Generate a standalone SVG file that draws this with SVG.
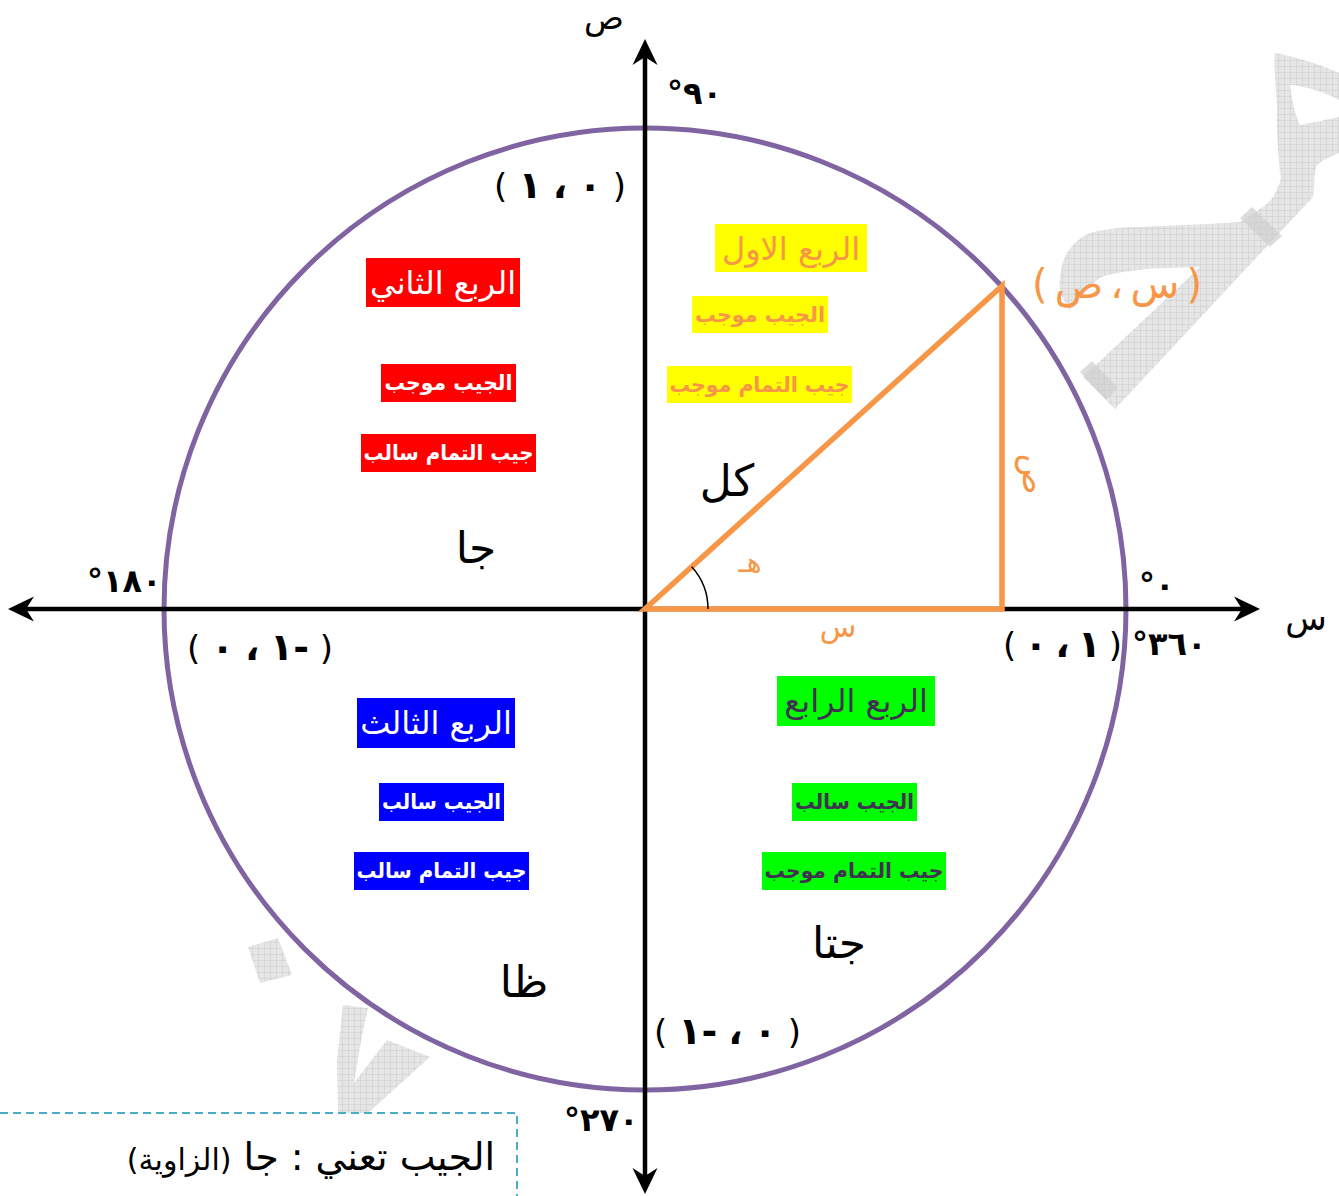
<svg xmlns="http://www.w3.org/2000/svg" width="1339" height="1196" viewBox="0 0 1339 1196">
<style>
.ar{font-family:"DejaVu Sans","Noto Sans",sans-serif;direction:rtl;}
.num{font-family:"DejaVu Sans","Noto Sans",sans-serif;unicode-bidi:bidi-override;direction:ltr;font-size:32px;font-weight:bold;fill:#000;}
.coord{font-family:"DejaVu Sans","Noto Sans",sans-serif;unicode-bidi:bidi-override;direction:ltr;font-size:34px;fill:#000;}
.d{font-weight:bold;font-size:38px;}
.title{font-size:32px;}
.sub{font-size:21px;font-weight:bold;}
.big{font-size:44px;fill:#000;}
.q1t{fill:#F79646;} .q2t{fill:#FFFFFF;} .q3t{fill:#FFFFFF;} .q4t{fill:#403152;}
.axis{stroke:#000;stroke-width:4.5;fill:none;}
.wm{fill:url(#grid);}
.wmd{fill:#CFCFCF;opacity:0.7;}
</style>
<defs>
<pattern id="grid" width="6" height="6" patternUnits="userSpaceOnUse">
<rect width="6" height="6" fill="#E6E6E6"/>
<path d="M0,0.3 H6 M0.3,0 V6" stroke="#CACACA" stroke-width="0.6"/>
</pattern>
<path id="ah" d="M0,0 L-26,-12.5 L-18,0 L-26,12.5 Z" fill="#000"/>
</defs>
<rect width="1339" height="1196" fill="#FFFFFF"/>

<g id="watermark">
<path class="wm" d="M1275,53 C1300,58 1325,66 1339,73 L1339,100 C1325,92 1305,86 1290,85 C1292,100 1295,115 1300,125 C1315,122 1330,119 1339,117 L1339,153 C1328,158 1318,162 1316,167 C1313,178 1315,190 1313,197 L1115,409 L1083,377 L1200,267 C1175,268 1150,268 1140,270 C1118,272 1103,275 1097,280 C1088,288 1080,298 1073,307 L1070,310 C1063,300 1058,290 1060,280 C1061,265 1065,255 1067,253 C1075,240 1085,235 1090,233 C1110,228 1125,227 1140,227 C1180,225 1215,224 1240,222 C1255,212 1268,205 1273,197 C1280,185 1282,178 1280,173 C1278,150 1276,125 1277,107 C1276,85 1273,65 1275,53 Z"/>
<path class="wmd" d="M1240,218 L1252,207 L1282,236 L1270,247 Z"/>
<path class="wmd" d="M1080,372 L1092,361 L1118,388 L1106,400 Z"/>
<path class="wm" d="M248,947 L278,938 L292,975 L260,983 Z"/>
<path class="wm" d="M343,1005 L368,1008 L362,1035 L354,1083 L387,1040 L430,1057 L368,1113 L338,1113 L337,1060 Z"/>
</g>

<g id="circle-node">
<circle cx="645" cy="609" r="481" fill="none" stroke="#8064A2" stroke-width="5"/>
</g>

<g id="connectors">
<line class="axis" x1="26" y1="609" x2="1242" y2="609"/>
<line class="axis" x1="645" y1="57" x2="645" y2="1177"/>
<use href="#ah" transform="translate(1260,609)"/>
<use href="#ah" transform="translate(8,609) rotate(180)"/>
<use href="#ah" transform="translate(645,39) rotate(-90)"/>
<use href="#ah" transform="translate(645,1194) rotate(90)"/>
</g>

<g id="triangle">
<path d="M645,609 L1002,609 L1002,286 Z" fill="none" stroke="#F79646" stroke-width="5.5" stroke-linejoin="miter"/>
<path d="M691.7,566.7 A63,63 0 0 1 708,609" fill="none" stroke="#000" stroke-width="1.5"/>
</g>

<g id="axis-labels">
<text class="ar" x="604" y="29" font-size="33" text-anchor="middle" fill="#000">ص</text>
<text class="ar" x="1306" y="630" font-size="34" text-anchor="middle" fill="#000">س</text>
<text class="num" x="667" y="104">°٩٠</text>
<text class="num" x="87" y="592">°١٨٠</text>
<text class="num" x="1139" y="596">°٠</text>
<text class="num" x="1132" y="655">°٣٦٠</text>
<text class="num" x="564" y="1131">°٢٧٠</text>
</g>

<g id="coords">
<text class="coord" x="494" y="198" textLength="132" lengthAdjust="spacing">( <tspan class="d">١</tspan> <tspan class="d">،</tspan> <tspan class="d">٠</tspan> )</text>
<text class="coord" x="187" y="660" textLength="146" lengthAdjust="spacing">( <tspan class="d">٠</tspan> <tspan class="d">،</tspan> <tspan class="d">١-</tspan> )</text>
<text class="coord" x="1003" y="657" textLength="119" lengthAdjust="spacing">( <tspan class="d">٠</tspan> <tspan class="d">،</tspan> <tspan class="d">١</tspan> )</text>
<text class="coord" x="654" y="1044" textLength="147" lengthAdjust="spacing">( <tspan class="d">١-</tspan> <tspan class="d">،</tspan> <tspan class="d">٠</tspan> )</text>
<text class="coord" x="1032" y="298" textLength="170" lengthAdjust="spacing" style="fill:#F79646;font-size:40px">( ص ، س )</text>
</g>

<g id="quadrant1">
<rect x="715" y="224" width="152" height="48" fill="#FFFF00"/>
<text class="ar title q1t" x="791" y="260" text-anchor="middle">الربع الاول</text>
<rect x="692" y="296" width="136" height="37" fill="#FFFF00"/>
<text class="ar sub q1t" x="760" y="322" text-anchor="middle" textLength="130" lengthAdjust="spacingAndGlyphs">الجيب موجب</text>
<rect x="667" y="366" width="185" height="37" fill="#FFFF00"/>
<text class="ar sub q1t" x="759.5" y="392" text-anchor="middle" textLength="180" lengthAdjust="spacingAndGlyphs">جيب التمام موجب</text>
</g>

<g id="quadrant2">
<rect x="366" y="258" width="154" height="49" fill="#FF0000"/>
<text class="ar title q2t" x="443" y="294" text-anchor="middle">الربع الثاني</text>
<rect x="381" y="364" width="135" height="38" fill="#FF0000"/>
<text class="ar sub q2t" x="448.5" y="390" text-anchor="middle" textLength="128" lengthAdjust="spacingAndGlyphs">الجيب موجب</text>
<rect x="361" y="434" width="175" height="38" fill="#FF0000"/>
<text class="ar sub q2t" x="448.5" y="460" text-anchor="middle" textLength="170" lengthAdjust="spacingAndGlyphs">جيب التمام سالب</text>
</g>

<g id="quadrant3">
<rect x="357" y="698" width="158" height="50" fill="#0000FF"/>
<text class="ar title q3t" x="436" y="734" text-anchor="middle">الربع الثالث</text>
<rect x="379" y="783" width="125" height="38" fill="#0000FF"/>
<text class="ar sub q3t" x="441.5" y="809" text-anchor="middle" textLength="119" lengthAdjust="spacingAndGlyphs">الجيب سالب</text>
<rect x="354" y="852" width="175" height="38" fill="#0000FF"/>
<text class="ar sub q3t" x="441.5" y="878" text-anchor="middle" textLength="170" lengthAdjust="spacingAndGlyphs">جيب التمام سالب</text>
</g>

<g id="quadrant4">
<rect x="777" y="676" width="158" height="50" fill="#00FF00"/>
<text class="ar title q4t" x="856" y="712" text-anchor="middle">الربع الرابع</text>
<rect x="792" y="783" width="125" height="38" fill="#00FF00"/>
<text class="ar sub q4t" x="854.5" y="809" text-anchor="middle" textLength="119" lengthAdjust="spacingAndGlyphs">الجيب سالب</text>
<rect x="762" y="852" width="184" height="38" fill="#00FF00"/>
<text class="ar sub q4t" x="854" y="878" text-anchor="middle" textLength="179" lengthAdjust="spacingAndGlyphs">جيب التمام موجب</text>
</g>

<g id="side-labels">
<text class="ar big" x="727" y="496" text-anchor="middle">كل</text>
<text class="ar" x="750" y="572" font-size="28" text-anchor="middle" fill="#F79646">هـ</text>
<text class="ar" x="838" y="637" font-size="30" text-anchor="middle" fill="#F79646">س</text>
<text class="ar" font-size="34" text-anchor="middle" fill="#F79646" transform="translate(1023,474) rotate(90)">ص</text>
<text class="ar big" x="476" y="563" text-anchor="middle">جا</text>
<text class="ar big" x="524" y="997" text-anchor="middle">ظا</text>
<text class="ar big" x="839" y="958" text-anchor="middle">جتا</text>
</g>

<g id="note">
<path d="M0,1113 H517 V1196" fill="none" stroke="#4BACC6" stroke-width="2" stroke-dasharray="8 5"/>
<text class="ar" x="311" y="1170" font-size="38" text-anchor="middle" fill="#000">الجيب تعني : جا <tspan font-size="30">(الزاوية)</tspan></text>
</g>
</svg>
